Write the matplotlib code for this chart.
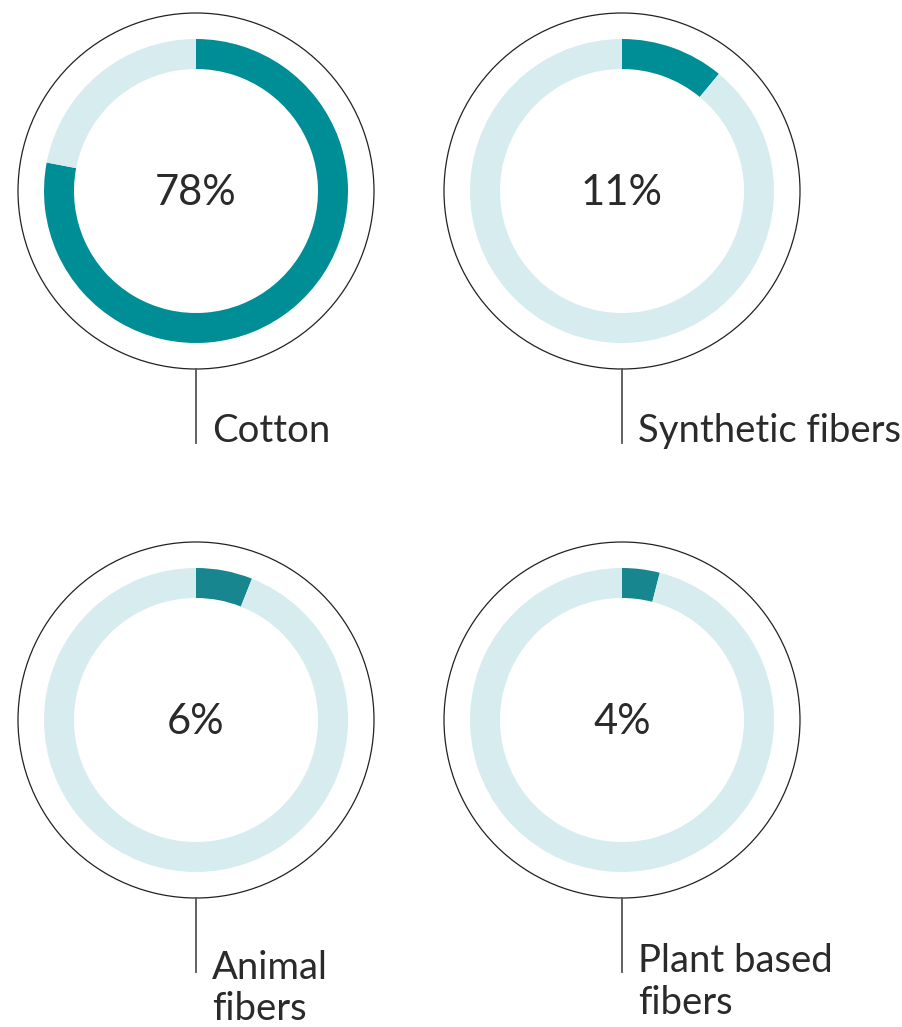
import matplotlib.pyplot as plt
from matplotlib.patches import Circle

# data
categories = ["Cotton", "Synthetic fibers", "Animal\nfibers", "Plant based\nfibers"]
shares = [78, 11, 6, 4]
pct_labels = ["78%", "11%", "6%", "4%"]

dark = ["#008e96", "#008e96", "#17868f", "#17868f"]
light = "#d7ecef"

W, H = 902, 1027
fig = plt.figure(figsize=(W / 100, H / 100), dpi=100)
ax = fig.add_axes([0, 0, 1, 1])
plt.rcParams['font.family'] = ['Lato', 'DejaVu Sans']

# centres in pixel coords (y from top)
centers = [(196, 191), (622, 191), (196, 720), (622, 720)]
label_y = [[442], [442], [979, 1020], [972, 1014]]
line_end = [443, 443, 972, 972]

for i, (cx, cy) in enumerate(centers):
    y = H - cy
    ax.pie([shares[i], 100 - shares[i]], colors=[dark[i], light],
           center=(cx, y), radius=152, startangle=90, counterclock=False,
           wedgeprops=dict(width=30, linewidth=0), frame=True)
    ax.add_patch(Circle((cx, y), 178, fill=False, edgecolor="#222222", lw=0.9))
    ax.text(cx, y - 2, pct_labels[i], ha="center", va="center", fontsize=30,
            color="#2a2a2a")
    ax.plot([cx, cx], [y - 178, H - line_end[i]], color="#555555", lw=1.3)
    for j, line in enumerate(categories[i].split("\n")):
        ax.text(cx + 16, H - label_y[i][j], line, ha="left", va="baseline",
                fontsize=27.5, color="#2a2a2a")

ax.set_xlim(0, W)
ax.set_ylim(0, H)
ax.set_aspect("equal")
ax.axis("off")
fig.savefig("out.png", dpi=100)
